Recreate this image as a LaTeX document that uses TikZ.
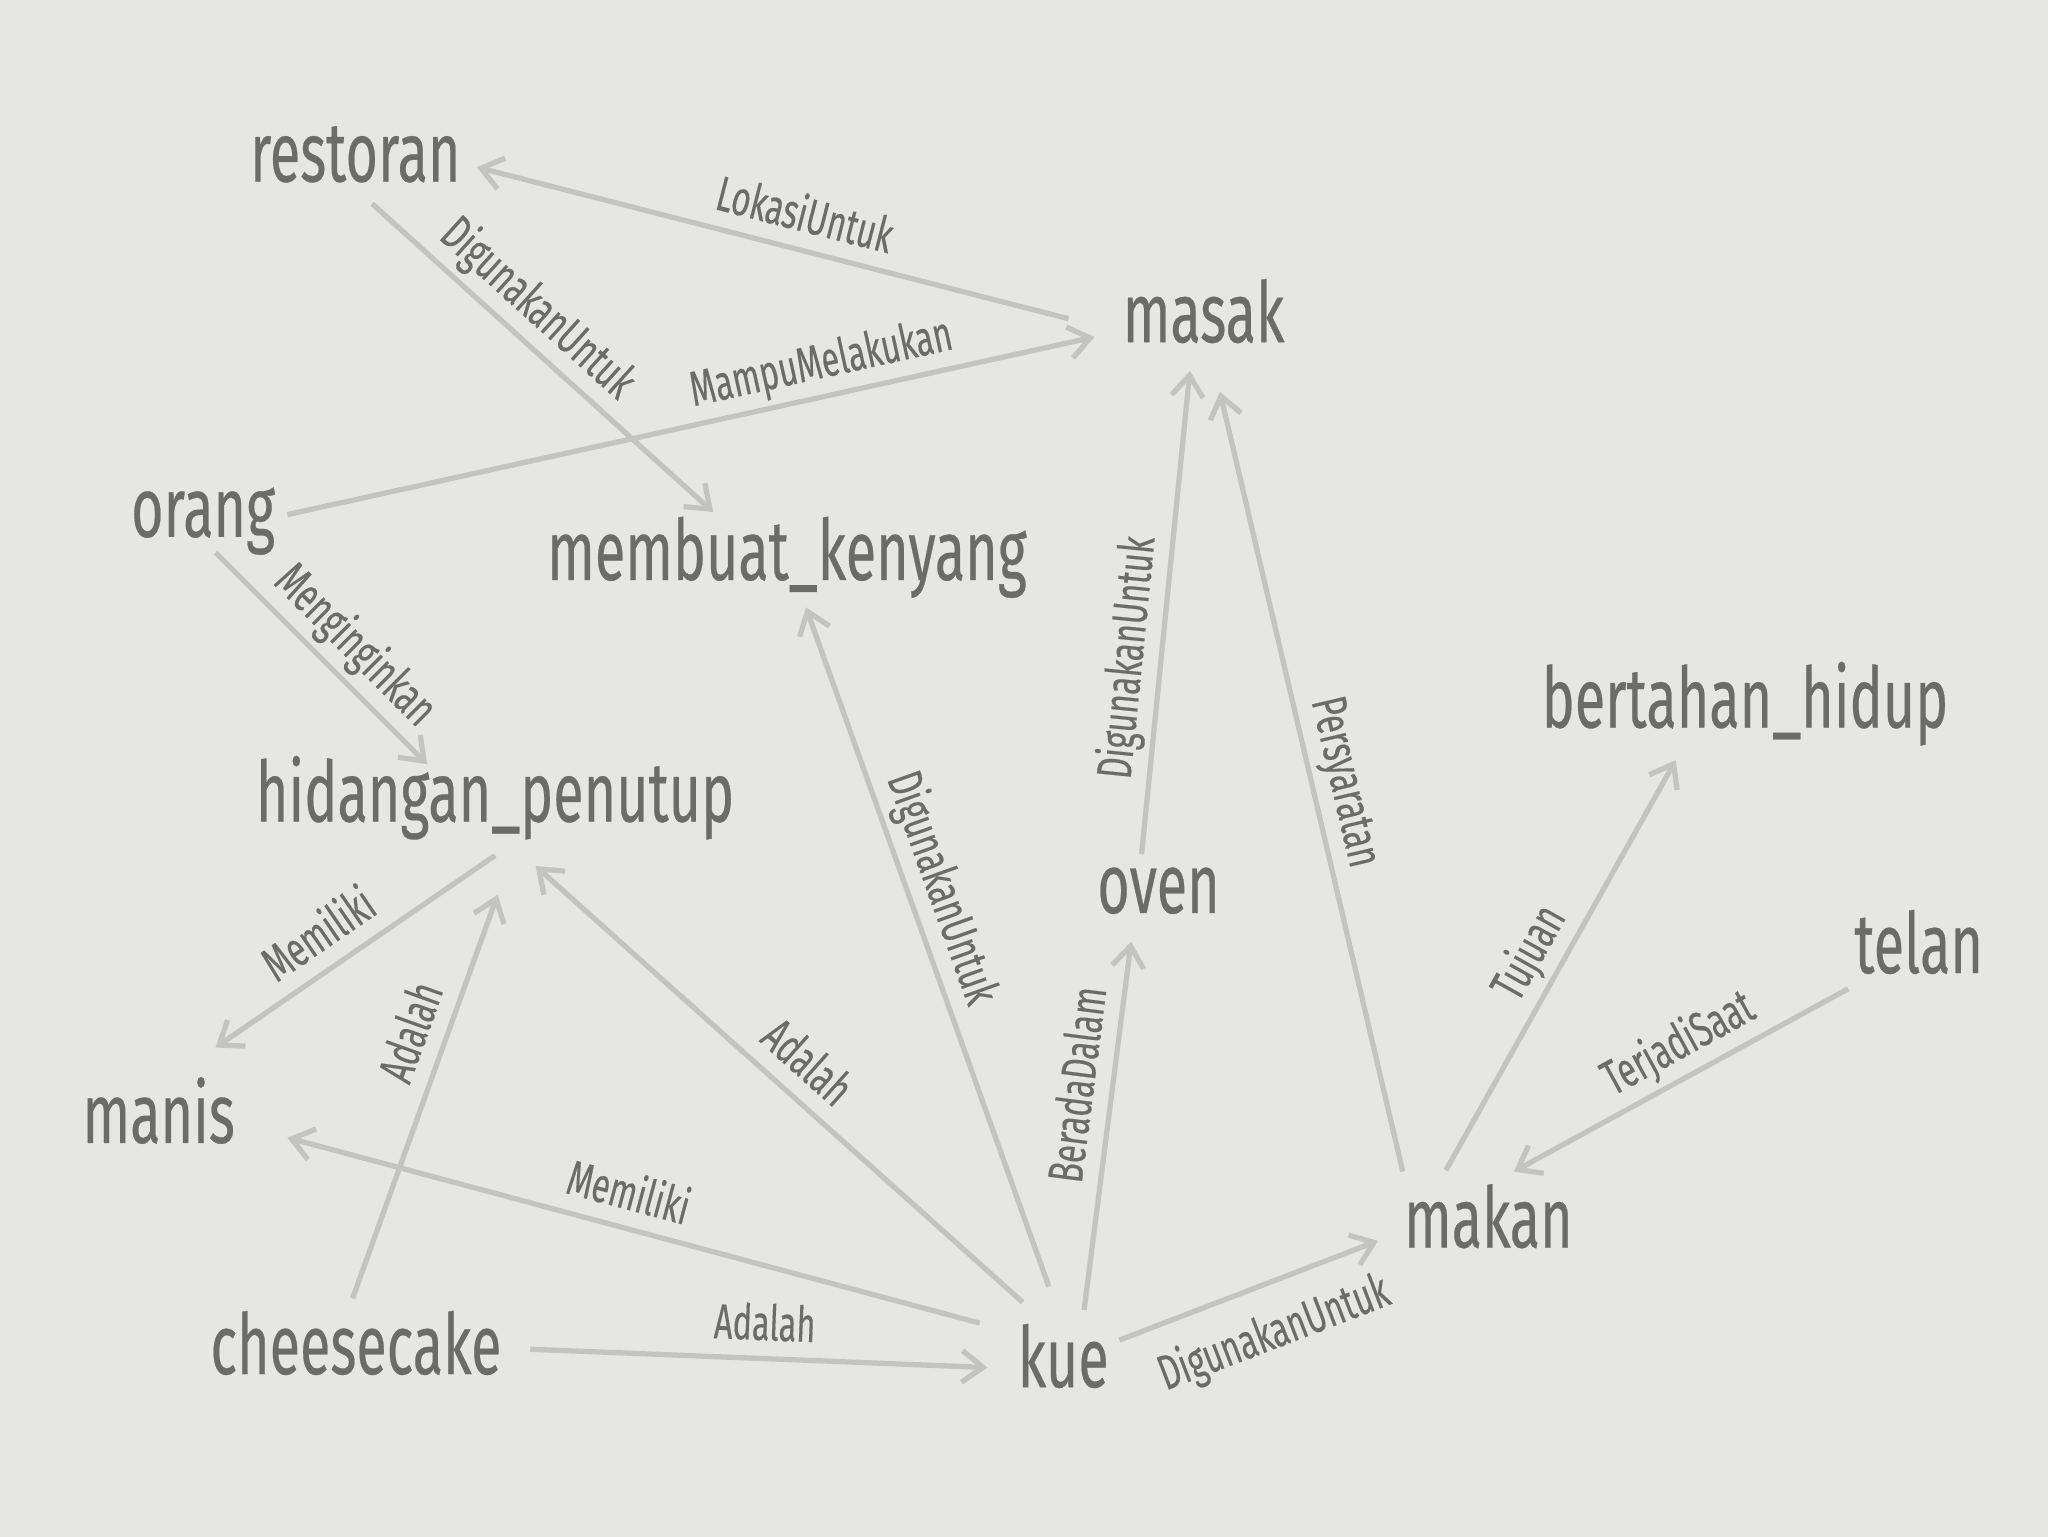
\documentclass[tikz,border=0pt]{standalone}
\usepackage{fontspec}
\setmainfont{Fira Sans}[FakeBold=0.4]
\usepackage{graphicx}
\usepackage{tikz}
\usetikzlibrary{arrows.meta}

\definecolor{paper}{HTML}{E6E7E4}
\definecolor{inkgrey}{HTML}{6B6C6A}
\definecolor{linkgrey}{HTML}{C3C4C1}

% narrow letters, as in the reference face
\newcommand{\narrow}[1]{\scalebox{0.66}[1]{#1}}

\tikzset{
    concept/.style = {font=\fontsize{48}{48}\selectfont, text=inkgrey, inner sep=0pt, anchor=base},
    link/.style    = {draw=linkgrey, line width=3pt, -{Straight Barb[length=12pt, width=18pt]}},
    rel/.style     = {font=\fontsize{28}{28}\selectfont, text=inkgrey, sloped, inner sep=9pt, text depth=0pt}
}

\begin{document}
\begin{tikzpicture}[x=0.026122cm, y=-0.026122cm]
                \useasboundingbox (0,0) rectangle (1568,1176);
                \fill[paper] (-5,-5) rectangle (1573,1181);

                \path
                    ( 272.0,  139) node[concept](restoran){\narrow{restoran}}
                    ( 921.5,  262) node[concept](masak){\narrow{masak}}
                    ( 155.5,  411) node[concept](orang){\narrow{orang}}
                    ( 602.5,  444) node[concept](kenyang){\narrow{membuat\_kenyang}}
                    (1336.0,  557) node[concept](bertahan){\narrow{bertahan\_hidup}}
                    ( 379.0,  629) node[concept](penutup){\narrow{hidangan\_penutup}}
                    ( 887.0,  699) node[concept](oven){\narrow{oven}}
                    (1469.0,  745) node[concept](telan){\narrow{telan}}
                    ( 121.5,  875) node[concept](manis){\narrow{manis}}
                    (1139.5,  955) node[concept](makan){\narrow{makan}}
                    ( 272.5, 1052) node[concept](cheesecake){\narrow{cheesecake}}
                    ( 814.0, 1062) node[concept](kue){\narrow{kue}}
                ;
                \draw [link] ([shift={(-103.5,-18)}]masak.base)    -- node[rel, pos=0.46, above]{\narrow{LokasiUntuk}}     ([shift={(93,-11)}]restoran.base);
                \draw [link] ([shift={(13,17)}]restoran.base)      -- node[rel, pos=0.42, above]{\narrow{DigunakanUntuk}}  ([shift={(-56.5,-52)}]kenyang.base);
                \draw [link] ([shift={(64.5,-17)}]orang.base)      -- node[rel, pos=0.67, above]{\narrow{MampuMelakukan}}  ([shift={(-83.5,-4)}]masak.base);
                \draw [link] ([shift={(9.5,12)}]orang.base)        -- node[rel, pos=0.55, above]{\narrow{Menginginkan}}    ([shift={(-52,-44)}]penutup.base);
                \draw [link] ([shift={(0,26)}]penutup.base)        -- node[rel, pos=0.56, above]{\narrow{Memiliki}}        ([shift={(43.5,-73)}]manis.base);
                \draw [link] ([shift={(-2.5,-58)}]cheesecake.base) -- node[rel, pos=0.63, above]{\narrow{Adalah}}          ([shift={(2,56)}]penutup.base);
                \draw [link] ([shift={(-31,-65)}]kue.base)         -- node[rel, pos=0.49, above]{\narrow{Adalah}}          ([shift={(31,34)}]penutup.base);
                \draw [link] ([shift={(-64,-49)}]kue.base)         -- node[rel, pos=0.52, above]{\narrow{Memiliki}}        ([shift={(98.5,-4)}]manis.base);
                \draw [link] ([shift={(133.5,-19)}]cheesecake.base) -- node[rel, pos=0.51, above]{\narrow{Adalah}}         ([shift={(-58,-15)}]kue.base);
                \draw [link] ([shift={(-11,-77)}]kue.base)         -- node[rel, pos=0.57, above]{\narrow{DigunakanUntuk}}  ([shift={(14.5,21)}]kenyang.base);
                \draw [link] ([shift={(16,-59)}]kue.base)          -- node[rel, pos=0.60, above]{\narrow{BeradaDalam}}     ([shift={(-21,22)}]oven.base);
                \draw [link] ([shift={(-13,-45)}]oven.base)        -- node[rel, pos=0.40, above]{\narrow{DigunakanUntuk}}  ([shift={(-10.5,22)}]masak.base);
                \draw [link] ([shift={(-65.5,-58)}]makan.base)     -- node[rel, pos=0.49, above]{\narrow{Persyaratan}}     ([shift={(12.5,38)}]masak.base);
                \draw [link] ([shift={(43,-36)}]kue.base)          -- node[rel, pos=0.53, below=4pt]{\narrow{DigunakanUntuk}} ([shift={(-84.5,-5)}]makan.base);
                \draw [link] ([shift={(-32.5,-59)}]makan.base)     -- node[rel, pos=0.49, above]{\narrow{Tujuan}}          ([shift={(-53,25)}]bertahan.base);
                \draw [link] ([shift={(-54,12)}]telan.base)        -- node[rel, pos=0.46, above]{\narrow{TerjadiSaat}}     ([shift={(19.5,-58)}]makan.base);
            \end{tikzpicture}
\end{document}
